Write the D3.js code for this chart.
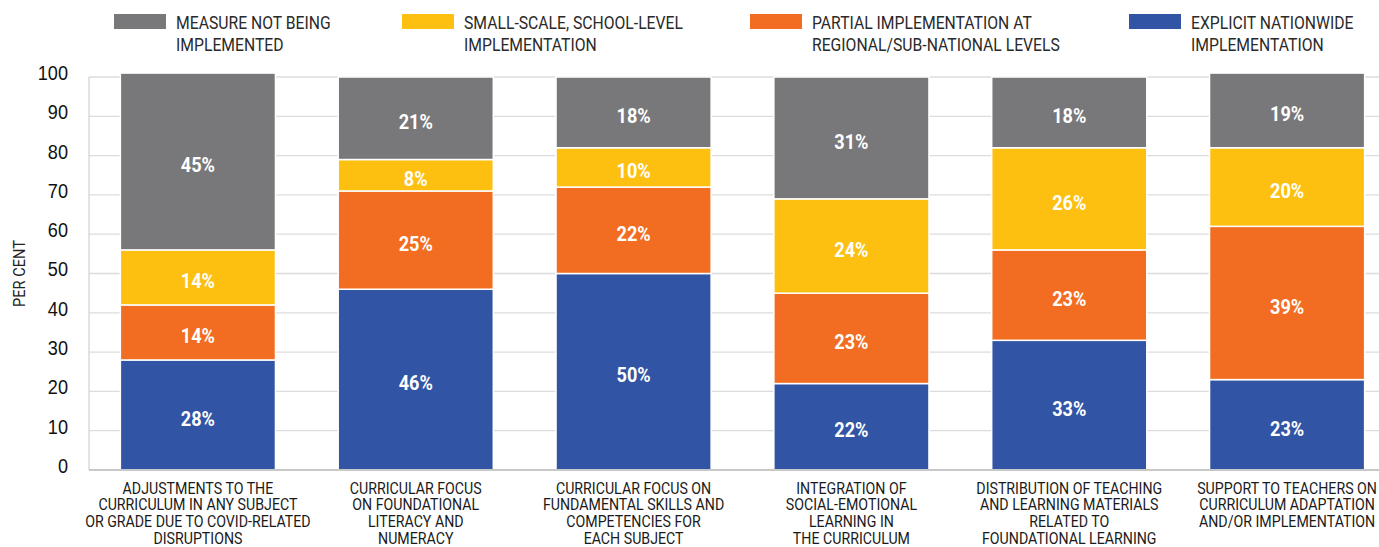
<!DOCTYPE html>
<html>
<head>
<meta charset="utf-8">
<script src="https://cdn.jsdelivr.net/npm/d3@7"></script>
<style>
  html, body { margin: 0; padding: 0; background: #fff; }
  svg { display: block; font-family: Roboto, "Liberation Sans", sans-serif; }
</style>
</head>
<body>
<svg id="chart" width="1379" height="547"></svg>
<script>
// Measures to support curriculum, share of countries by level of implementation
const categories = [
  ["ADJUSTMENTS TO THE", "CURRICULUM IN ANY SUBJECT", "OR GRADE DUE TO COVID-RELATED", "DISRUPTIONS"],
  ["CURRICULAR FOCUS", "ON FOUNDATIONAL", "LITERACY AND", "NUMERACY"],
  ["CURRICULAR FOCUS ON", "FUNDAMENTAL SKILLS AND", "COMPETENCIES FOR", "EACH SUBJECT"],
  ["INTEGRATION OF", "SOCIAL-EMOTIONAL", "LEARNING IN", "THE CURRICULUM"],
  ["DISTRIBUTION OF TEACHING", "AND LEARNING MATERIALS", "RELATED TO", "FOUNDATIONAL LEARNING"],
  ["SUPPORT TO TEACHERS ON", "CURRICULUM ADAPTATION", "AND/OR IMPLEMENTATION"]
];

// Stack order, bottom to top
const seriesNames = ["nationwide", "partial", "school", "none"];
const nationwide = [28, 46, 50, 22, 33, 23];
const partial    = [14, 25, 22, 23, 23, 39];
const school     = [14, 8, 10, 24, 26, 20];
const none       = [45, 21, 18, 31, 18, 19];

const legendLabels = [
  ["MEASURE NOT BEING", "IMPLEMENTED"],
  ["SMALL-SCALE, SCHOOL-LEVEL", "IMPLEMENTATION"],
  ["PARTIAL IMPLEMENTATION AT", "REGIONAL/SUB-NATIONAL LEVELS"],
  ["EXPLICIT NATIONWIDE", "IMPLEMENTATION"]
];
const legendKeys = ["none", "school", "partial", "nationwide"];
const yTicks = [0, 10, 20, 30, 40, 50, 60, 70, 80, 90, 100];
const yTitle = "PER CENT";

const colors = {
  none: "#78787a",
  school: "#fdc010",
  partial: "#f26d21",
  nationwide: "#3154a4"
};

// Horizontal squeeze giving a condensed look to the labels
const SQUEEZE = 0.86;
const DIGIT_SQUEEZE = 0.93;

const rows = categories.map((c, i) => ({
  idx: i,
  nationwide: nationwide[i],
  partial: partial[i],
  school: school[i],
  none: none[i]
}));

const svg = d3.select("#chart");
const margin = { left: 89, top: 77 };
const plotRight = 1396;
const baseY = 470;

const x = d3.scaleBand()
  .domain(d3.range(categories.length))
  .range([margin.left, plotRight])
  .paddingInner(0.288)
  .paddingOuter(0.144);

const y = d3.scaleLinear().domain([0, 100]).range([baseY, margin.top]);

// Multi-line condensed text block anchored at (px, py)
function condensedText(parent, px, py, lines, opts) {
  const g = parent.append("g")
    .attr("transform", `translate(${px},${py}) scale(${SQUEEZE},1)`);
  const t = g.append("text")
    .attr("text-anchor", opts.anchor || "start")
    .attr("font-size", opts.size)
    .attr("fill", opts.fill);
  lines.forEach((ln, j) => {
    t.append("tspan").attr("x", 0).attr("y", j * opts.lineH).text(ln);
  });
  return g;
}

// Gridlines
svg.append("g")
  .selectAll("line")
  .data(yTicks.filter(d => d > 0))
  .join("line")
  .attr("x1", margin.left).attr("x2", 1379)
  .attr("y1", d => y(d)).attr("y2", d => y(d))
  .attr("stroke", "#dcdcdc").attr("stroke-width", 1.3);

// Left axis line
svg.append("line")
  .attr("x1", margin.left).attr("x2", margin.left)
  .attr("y1", y(100)).attr("y2", baseY)
  .attr("stroke", "#d4d4d4").attr("stroke-width", 1.3);

// Y tick labels
const yAxis = d3.axisLeft(y).tickValues(yTicks).tickSize(0).tickPadding(0);
const yg = svg.append("g").attr("transform", `translate(68,0)`).call(yAxis);
yg.select(".domain").remove();
yg.selectAll(".tick").attr("transform", d => `translate(0,${y(d)}) scale(${DIGIT_SQUEEZE},1)`);
yg.selectAll("text")
  .attr("font-size", 19.5)
  .attr("fill", "#111")
  .attr("font-family", "inherit")
  .attr("dy", "0.15em");

// Y title
svg.append("g")
  .attr("transform", `translate(25,${(y(0) + y(100)) / 2}) rotate(-90) scale(${SQUEEZE},1)`)
  .append("text")
  .attr("text-anchor", "middle")
  .attr("font-size", 17)
  .attr("fill", "#222")
  .text(yTitle);

// Stacked bars
const stack = d3.stack().keys(seriesNames);
const layers = stack(rows);

const layerG = svg.append("g")
  .selectAll("g")
  .data(layers)
  .join("g")
  .attr("fill", d => colors[d.key]);

layerG.selectAll("rect")
  .data(d => d)
  .join("rect")
  .attr("x", d => x(d.data.idx))
  .attr("width", x.bandwidth())
  .attr("y", d => y(d[1]))
  .attr("height", d => y(d[0]) - y(d[1]))
  .attr("stroke", "#fff")
  .attr("stroke-width", 1.5);

// Baseline
svg.append("line")
  .attr("x1", margin.left).attr("x2", 1379)
  .attr("y1", baseY).attr("y2", baseY)
  .attr("stroke", "#c8c8c8").attr("stroke-width", 2);

// Value labels
layerG.selectAll("g.val")
  .data(d => d.map(v => ({ v, key: d.key })))
  .join("g")
  .attr("class", "val")
  .attr("transform", d =>
    `translate(${x(d.v.data.idx) + x.bandwidth() / 2},${y((d.v[0] + d.v[1]) / 2)}) scale(${DIGIT_SQUEEZE},1)`)
  .append("text")
  .attr("dy", "0.55em")
  .attr("text-anchor", "middle")
  .attr("fill", "#fff")
  .attr("font-weight", "bold")
  .attr("font-size", 19.5)
  .text(d => `${d.v.data[d.key]}%`);

// Category labels
const catG = svg.append("g");
categories.forEach((lines, i) => {
  condensedText(catG, x(i) + x.bandwidth() / 2, 493.5, lines,
    { anchor: "middle", size: 16.5, fill: "#1a1a1a", lineH: 16.8 });
});

// Legend
const legendX = [114, 402, 750, 1129];
const legend = svg.append("g");
legendKeys.forEach((k, i) => {
  legend.append("rect")
    .attr("x", legendX[i]).attr("y", 14)
    .attr("width", 52).attr("height", 15)
    .attr("fill", colors[k]);
  condensedText(legend, legendX[i] + 62, 29, legendLabels[i],
    { size: 18.3, fill: "#2a2a2a", lineH: 22 });
});
</script>
</body>
</html>
